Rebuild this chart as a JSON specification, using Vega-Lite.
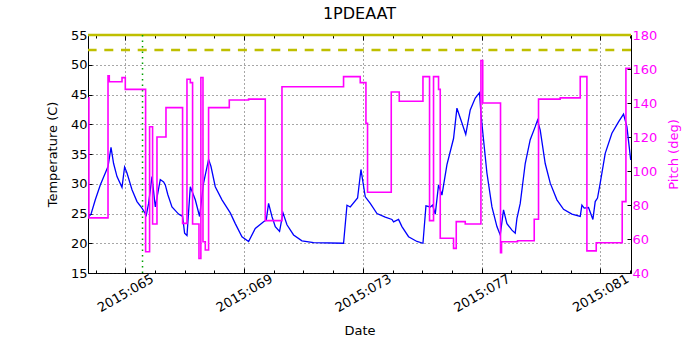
{
  "$schema": "https://vega.github.io/schema/vega-lite/v6.json",
  "autosize": "none",
  "width": 543,
  "height": 238,
  "padding": {"left": 88, "top": 35, "right": 69, "bottom": 77},
  "background": "white",
  "title": {"text": "1PDEAAT", "fontSize": 16, "fontWeight": "normal", "font": "DejaVu Sans", "offset": 7, "color": "black"},
  "datasets": {
    "temp": [
      {"day": 63.771, "t": 24.5}, {"day": 63.845, "t": 24.9}, {"day": 63.990, "t": 27.3}, {"day": 64.158, "t": 29.8},
      {"day": 64.327, "t": 31.8}, {"day": 64.418, "t": 32.9}, {"day": 64.519, "t": 36.1}, {"day": 64.606, "t": 33.4},
      {"day": 64.721, "t": 31.2}, {"day": 64.889, "t": 29.4}, {"day": 64.976, "t": 32.8}, {"day": 65.057, "t": 31.8},
      {"day": 65.226, "t": 29.0}, {"day": 65.394, "t": 27.0}, {"day": 65.562, "t": 25.9}, {"day": 65.707, "t": 24.7},
      {"day": 65.785, "t": 26.7}, {"day": 65.899, "t": 31.2}, {"day": 66.010, "t": 26.1}, {"day": 66.178, "t": 30.7},
      {"day": 66.290, "t": 30.3}, {"day": 66.347, "t": 29.8}, {"day": 66.431, "t": 28.2}, {"day": 66.572, "t": 26.1},
      {"day": 66.795, "t": 24.9}, {"day": 66.929, "t": 24.5}, {"day": 66.997, "t": 21.7}, {"day": 67.077, "t": 21.3},
      {"day": 67.189, "t": 29.5}, {"day": 67.357, "t": 27.3}, {"day": 67.502, "t": 24.5}, {"day": 67.636, "t": 30.1},
      {"day": 67.805, "t": 34.1}, {"day": 67.886, "t": 32.9}, {"day": 68.030, "t": 29.5}, {"day": 68.256, "t": 27.3},
      {"day": 68.535, "t": 25.1}, {"day": 68.704, "t": 23.3}, {"day": 68.929, "t": 21.1}, {"day": 69.152, "t": 20.3},
      {"day": 69.377, "t": 22.5}, {"day": 69.657, "t": 23.6}, {"day": 69.747, "t": 23.9}, {"day": 69.825, "t": 26.7},
      {"day": 69.939, "t": 24.5}, {"day": 70.051, "t": 22.8}, {"day": 70.195, "t": 22.0}, {"day": 70.310, "t": 25.1},
      {"day": 70.444, "t": 23.1}, {"day": 70.667, "t": 21.4}, {"day": 70.949, "t": 20.4}, {"day": 71.340, "t": 20.1},
      {"day": 72.350, "t": 20.0}, {"day": 72.465, "t": 26.4}, {"day": 72.576, "t": 26.1}, {"day": 72.822, "t": 27.6},
      {"day": 72.936, "t": 32.4}, {"day": 73.081, "t": 27.8}, {"day": 73.249, "t": 26.7}, {"day": 73.475, "t": 25.0},
      {"day": 73.754, "t": 24.4}, {"day": 73.980, "t": 24.0}, {"day": 74.034, "t": 23.6}, {"day": 74.202, "t": 24.0},
      {"day": 74.316, "t": 22.8}, {"day": 74.539, "t": 21.1}, {"day": 74.822, "t": 20.3}, {"day": 75.024, "t": 20.0},
      {"day": 75.125, "t": 26.3}, {"day": 75.269, "t": 26.1}, {"day": 75.347, "t": 26.4}, {"day": 75.438, "t": 24.9},
      {"day": 75.549, "t": 29.8}, {"day": 75.663, "t": 28.1}, {"day": 75.832, "t": 33.2}, {"day": 76.054, "t": 37.6},
      {"day": 76.168, "t": 42.7}, {"day": 76.337, "t": 40.2}, {"day": 76.465, "t": 38.3}, {"day": 76.616, "t": 42.4},
      {"day": 76.785, "t": 44.4}, {"day": 76.929, "t": 45.3}, {"day": 76.976, "t": 41.8}, {"day": 77.064, "t": 37.4},
      {"day": 77.178, "t": 31.8}, {"day": 77.347, "t": 26.1}, {"day": 77.515, "t": 22.8}, {"day": 77.626, "t": 21.4},
      {"day": 77.737, "t": 25.6}, {"day": 77.852, "t": 23.3}, {"day": 78.020, "t": 22.2}, {"day": 78.131, "t": 21.7},
      {"day": 78.189, "t": 24.2}, {"day": 78.300, "t": 26.7}, {"day": 78.468, "t": 33.4}, {"day": 78.636, "t": 37.4},
      {"day": 78.805, "t": 39.6}, {"day": 78.882, "t": 40.7}, {"day": 78.973, "t": 39.0}, {"day": 79.141, "t": 33.4},
      {"day": 79.310, "t": 30.1}, {"day": 79.535, "t": 27.3}, {"day": 79.758, "t": 25.7}, {"day": 80.040, "t": 24.9},
      {"day": 80.320, "t": 24.5}, {"day": 80.377, "t": 26.4}, {"day": 80.455, "t": 25.9}, {"day": 80.599, "t": 26.0},
      {"day": 80.747, "t": 24.0}, {"day": 80.825, "t": 27.0}, {"day": 80.902, "t": 27.6}, {"day": 80.993, "t": 30.1},
      {"day": 81.162, "t": 35.1}, {"day": 81.387, "t": 38.5}, {"day": 81.610, "t": 40.4}, {"day": 81.778, "t": 41.7},
      {"day": 81.892, "t": 39.6}, {"day": 82.020, "t": 34.0}
    ],
    "pitch": [
      {"day": 63.754, "p": 143}, {"day": 63.774, "p": 72.4}, {"day": 64.418, "p": 156}, {"day": 64.461, "p": 152.5},
      {"day": 64.889, "p": 154.9}, {"day": 65.000, "p": 148}, {"day": 65.684, "p": 52.5}, {"day": 65.818, "p": 126},
      {"day": 65.919, "p": 68.8}, {"day": 66.067, "p": 120}, {"day": 66.370, "p": 137.3}, {"day": 66.929, "p": 69.2},
      {"day": 67.077, "p": 154}, {"day": 67.189, "p": 152}, {"day": 67.266, "p": 68.8}, {"day": 67.481, "p": 48.5},
      {"day": 67.545, "p": 155}, {"day": 67.616, "p": 58.4}, {"day": 67.694, "p": 53.5}, {"day": 67.805, "p": 137.3},
      {"day": 68.502, "p": 141.8}, {"day": 69.152, "p": 142.3}, {"day": 69.714, "p": 70.8}, {"day": 70.276, "p": 149.6},
      {"day": 72.350, "p": 155.5}, {"day": 72.912, "p": 152}, {"day": 73.104, "p": 128}, {"day": 73.158, "p": 87.5},
      {"day": 73.956, "p": 146.5}, {"day": 74.226, "p": 141}, {"day": 75.024, "p": 155.5}, {"day": 75.246, "p": 70.8},
      {"day": 75.380, "p": 155.5}, {"day": 75.549, "p": 148}, {"day": 75.606, "p": 60.4}, {"day": 76.054, "p": 54.5},
      {"day": 76.145, "p": 70.2}, {"day": 76.448, "p": 68.8}, {"day": 76.976, "p": 165}, {"day": 77.037, "p": 140},
      {"day": 77.636, "p": 52}, {"day": 77.670, "p": 58.4}, {"day": 78.209, "p": 59}, {"day": 78.771, "p": 71.6},
      {"day": 78.916, "p": 142.3}, {"day": 79.646, "p": 143}, {"day": 80.320, "p": 155.5}, {"day": 80.545, "p": 53},
      {"day": 80.859, "p": 57.8}, {"day": 81.734, "p": 82}, {"day": 81.859, "p": 160.4}, {"day": 82.020, "p": 160.4}
    ],
    "limits": [{"name": "planning", "t": 52.5, "kind": "dashed"}, {"name": "top", "t": 55, "kind": "solid"}],
    "marker": [{"name": "now", "day": 65.58}]
  },
  "layer": [
    {
      "layer": [
        {
          "data": {"name": "temp"},
          "mark": {"type": "line", "color": "#0000ff", "strokeWidth": 1.3, "clip": true},
          "encoding": {
            "x": {
              "field": "day", "type": "quantitative",
              "scale": {"domain": [63.744, 82.03], "nice": false, "zero": false},
              "axis": {
                "orient": "bottom", "title": "Date",
                "values": [64, 65, 66, 67, 68, 69, 70, 71, 72, 73, 74, 75, 76, 77, 78, 79, 80, 81, 82],
                "labelExpr": "datum.value % 4 == 1 ? '2015:0' + datum.value : ''",
                "labelAngle": -30, "labelAlign": "center", "labelBaseline": "middle",
                "labelPadding": 25, "labelOverlap": false, "labelFlush": false,
                "tickSize": {"condition": {"test": "datum.value % 4 == 1", "value": -5}, "value": -3},
                "grid": true,
                "gridOpacity": {"condition": {"test": "datum.value % 4 == 1", "value": 1}, "value": 0},
                "titlePadding": 10
              }
            },
            "y": {
              "field": "t", "type": "quantitative",
              "scale": {"domain": [15, 55], "nice": false, "zero": false},
              "axis": {
                "orient": "left", "title": "Temperature (C)",
                "values": [15, 20, 25, 30, 35, 40, 45, 50, 55],
                "tickSize": -4, "labelPadding": 5, "labelOverlap": false, "labelFlush": false,
                "grid": true,
                "titleAngle": 270, "titleX": -36, "titleY": 119, "titleAlign": "center", "titleBaseline": "middle"
              }
            }
          }
        },
        {
          "data": {"name": "limits"},
          "mark": {"type": "rule", "color": "#bfbf00", "strokeWidth": 2.5},
          "encoding": {
            "y": {
              "field": "t", "type": "quantitative",
              "axis": {
                "orient": "left", "title": "Temperature (C)",
                "values": [15, 20, 25, 30, 35, 40, 45, 50, 55],
                "tickSize": -4, "labelPadding": 5, "labelOverlap": false, "labelFlush": false,
                "grid": true,
                "titleAngle": 270, "titleX": -36, "titleY": 119, "titleAlign": "center", "titleBaseline": "middle"
              }
            },
            "strokeDash": {
              "field": "kind", "type": "nominal", "legend": null,
              "scale": {"domain": ["dashed", "solid"], "range": [[9, 7.7], [1, 0]]}
            }
          }
        },
        {
          "data": {"name": "marker"},
          "mark": {"type": "rule", "color": "#00a000", "strokeWidth": 1.5, "strokeDash": [1.5, 4]},
          "encoding": {
            "x": {
              "field": "day", "type": "quantitative",
              "axis": {
                "orient": "top", "title": null, "labels": false, "grid": false,
                "values": [64, 65, 66, 67, 68, 69, 70, 71, 72, 73, 74, 75, 76, 77, 78, 79, 80, 81, 82],
                "tickSize": {"condition": {"test": "datum.value % 4 == 1", "value": -5}, "value": -3}
              }
            }
          }
        }
      ],
      "resolve": {"axis": {"x": "independent"}}
    },
    {
      "data": {"name": "pitch"},
      "mark": {"type": "line", "color": "#ff00ff", "strokeWidth": 1.6, "interpolate": "step-after", "clip": true},
      "encoding": {
        "x": {"field": "day", "type": "quantitative", "axis": null},
        "y": {
          "field": "p", "type": "quantitative",
          "scale": {"domain": [40, 180], "nice": false, "zero": false},
          "axis": {
            "orient": "right", "title": "Pitch (deg)", "titleColor": "#ff00ff", "labelColor": "#ff00ff",
            "titleAngle": 270, "titleX": 42, "titleY": 119, "titleAlign": "center", "titleBaseline": "middle",
            "values": [40, 60, 80, 100, 120, 140, 160, 180],
            "tickSize": -4, "labelPadding": 5, "labelOverlap": false, "labelFlush": false,
            "grid": false
          }
        }
      }
    }
  ],
  "resolve": {"scale": {"y": "independent"}, "axis": {"x": "independent"}},
  "config": {
    "font": "DejaVu Sans",
    "view": {"stroke": "black", "strokeWidth": 1},
    "axis": {
      "domain": false,
      "labelFont": "DejaVu Sans", "labelFontSize": 13, "labelColor": "black",
      "titleFont": "DejaVu Sans", "titleFontSize": 13, "titleFontWeight": "normal", "titleColor": "black",
      "tickColor": "black", "tickWidth": 1,
      "gridColor": "#222", "gridDash": [1, 3], "gridWidth": 0.8
    }
  }
}
